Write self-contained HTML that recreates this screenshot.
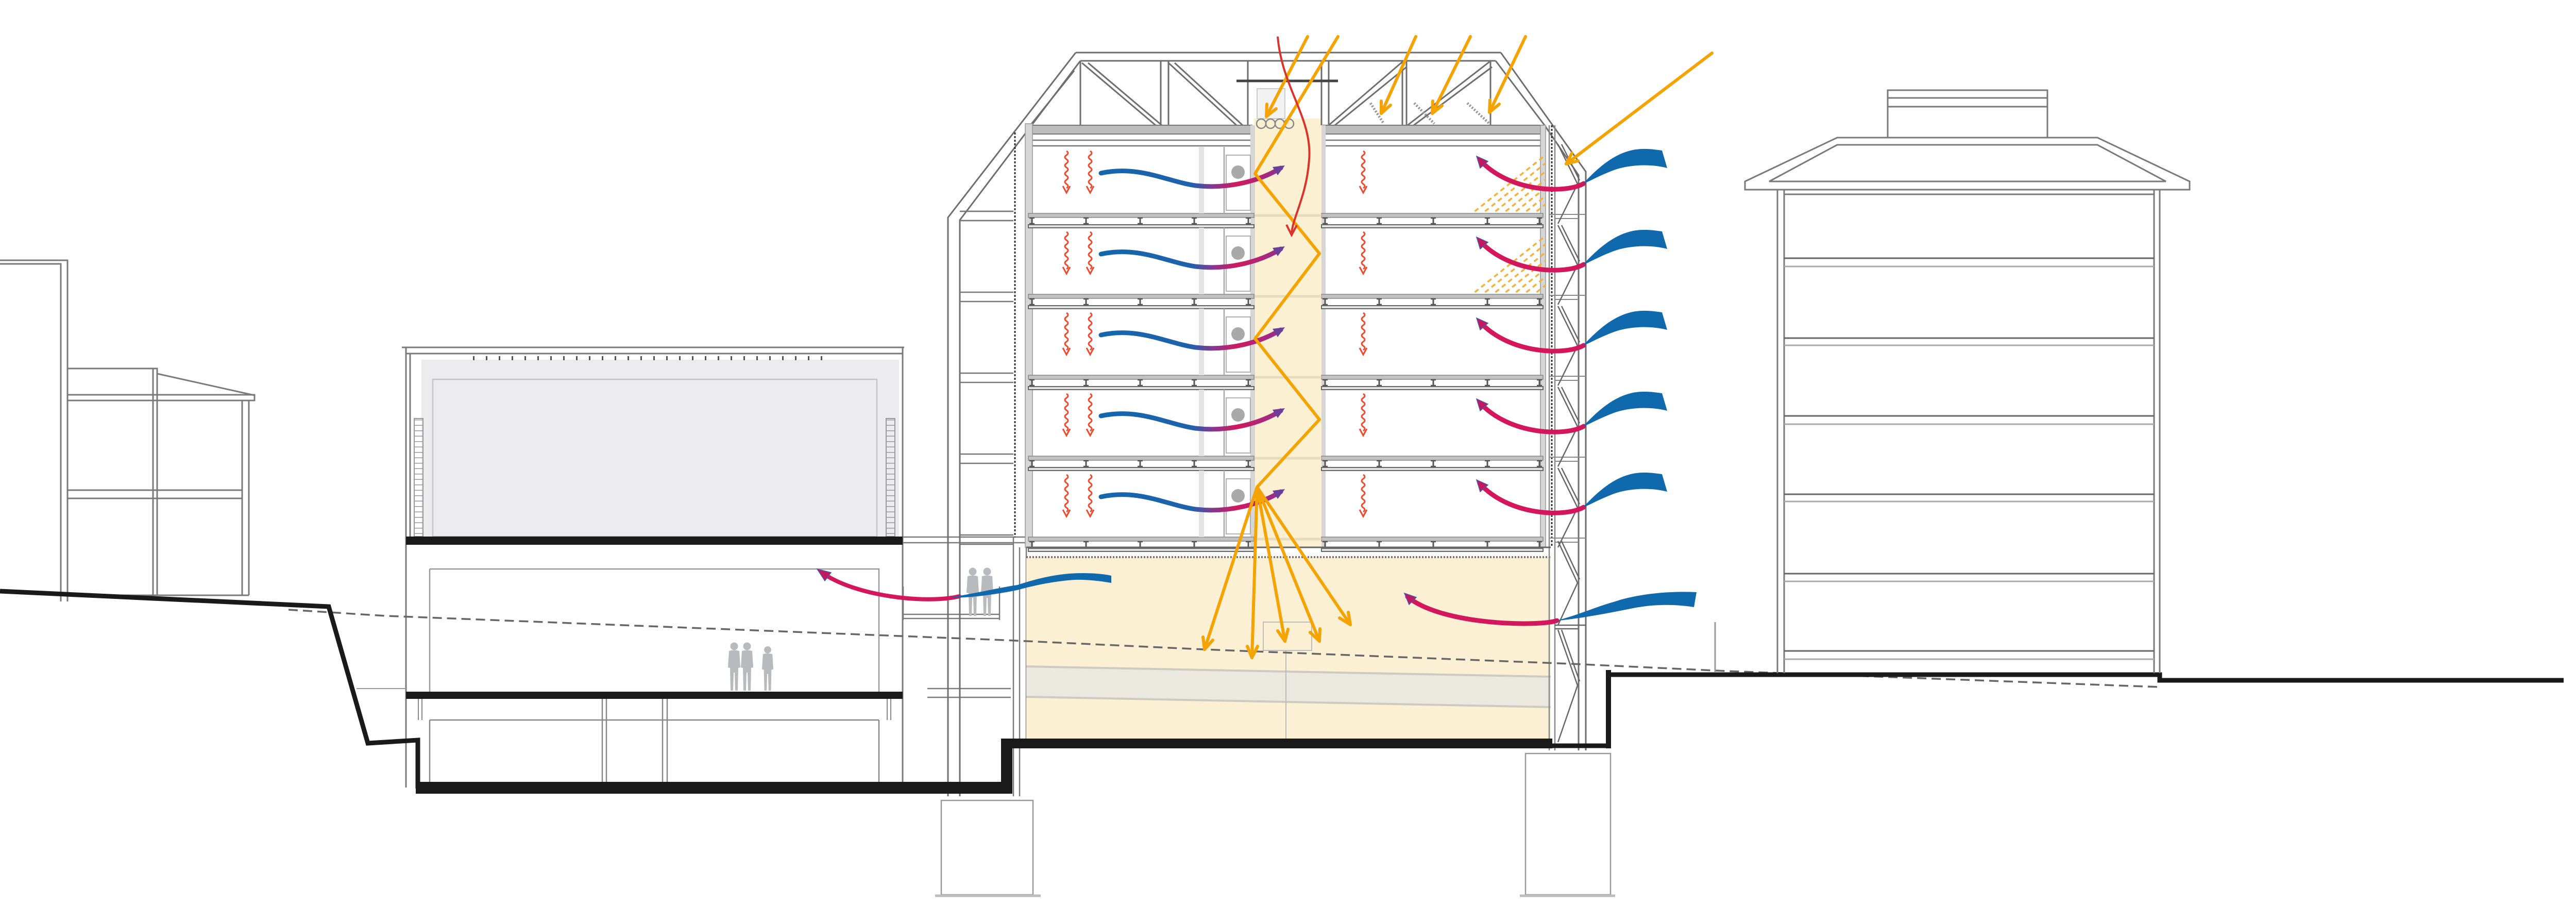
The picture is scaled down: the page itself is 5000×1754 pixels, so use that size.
<!DOCTYPE html>
<html><head><meta charset="utf-8">
<style>html,body{margin:0;padding:0;background:#fff;}svg{display:block}</style>
</head><body>
<svg xmlns="http://www.w3.org/2000/svg" xmlns:xlink="http://www.w3.org/1999/xlink" width="5000" height="1754" viewBox="0 0 5000 1754">
<defs>
<linearGradient id="bm" gradientUnits="userSpaceOnUse" x1="2137" y1="0" x2="2490" y2="0">
<stop offset="0" stop-color="#1466ad"/><stop offset="0.5" stop-color="#1f62ab"/><stop offset="0.62" stop-color="#8a3590"/><stop offset="0.75" stop-color="#d01a5e"/><stop offset="1" stop-color="#8e3192"/>
</linearGradient>
<clipPath id="hc"><polygon points="2846,413 3000,298 3000,413"/></clipPath>
<g id="slab">
 <rect x="1996" y="0" width="438" height="8" fill="#c2c2c2" stroke="#888" stroke-width="1.5"/>
 <rect x="2565" y="0" width="430" height="8" fill="#c2c2c2" stroke="#888" stroke-width="1.5"/>
 <path d="M2003,8v13M2108,8v13M2213,8v13M2318,8v13M2423,8v13M2572,8v13M2677,8v13M2782,8v13M2887,8v13M2988,8v13" stroke="#555" stroke-width="3"/>
 <path d="M1998,9h10M1998,20h10M2103,9h10M2103,20h10M2208,9h10M2208,20h10M2313,9h10M2313,20h10M2418,9h10M2418,20h10M2567,9h10M2567,20h10M2672,9h10M2672,20h10M2777,9h10M2777,20h10M2882,9h10M2882,20h10M2983,9h10M2983,20h10" stroke="#555" stroke-width="2.5"/>
 <rect x="1996" y="22" width="438" height="6" fill="#e2e2e2" stroke="#666" stroke-width="2"/>
 <rect x="2565" y="22" width="430" height="6" fill="#e2e2e2" stroke="#666" stroke-width="2"/>
 <path d="M1863,-4H1967M1863,14H1967" stroke="#777" stroke-width="2.5"/>
 <path d="M2436,4H2565" stroke="#e6dbbd" stroke-width="5"/>
 <path d="M3007,2H3078M3018,10H3064" stroke="#888" stroke-width="2"/>
</g>
<g id="wave">
 <path d="M0,0q6,4 0,8t0,8t0,8t0,8t0,8t0,8t0,8t0,8t0,8" fill="none" stroke="#ee4a30" stroke-width="3"/>
 <path d="M-7,68L0,81L7,68" fill="none" stroke="#ee4a30" stroke-width="3"/>
</g>
<g id="room">
 <rect x="2327" y="285" width="10" height="129" fill="#e3e3e3"/>
 <path d="M2376,285V414" stroke="#aaa" stroke-width="2.5"/>
 <rect x="2380" y="301" width="47" height="107" fill="#fff" stroke="#b0b0b0" stroke-width="2"/>
 <circle cx="2403" cy="334" r="13" fill="#a9a9a9"/>
 <use xlink:href="#wave" transform="translate(2070,293)"/>
 <use xlink:href="#wave" transform="translate(2116,293)"/>
 <use xlink:href="#wave" transform="translate(2646,293)"/>
 <path d="M2137,336C2210,320 2265,352 2320,360C2390,368 2450,348 2486,326" fill="none" stroke="url(#bm)" stroke-width="9" stroke-linecap="round"/>
 <path d="M2494,321L2480,340L2470,324Z" fill="#6a3f98"/>
 <path d="M3024,280L3062,357L3024,434M3031,280L3066,350" fill="none" stroke="#666" stroke-width="2.5"/>
 <path d="M3074,356C3040,376 2930,374 2872,310" fill="none" stroke="#d4175c" stroke-width="9" stroke-linecap="round"/>
 <path d="M2866,303L2888,313L2873,326Z" fill="#c2185f" stroke="#4a5aa8" stroke-width="1.5"/>
 <path d="M3072,357C3095,333 3125,302 3165,292C3190,286 3210,290 3226,292L3236,326C3205,318 3160,318 3125,333C3100,343 3085,352 3072,357Z" fill="#1169ad"/>
</g>
<g id="hatch" clip-path="url(#hc)">
 <path d="M2790,420L2985,265M2810,420L3005,265M2830,420L3025,265M2850,420L3045,265M2870,420L3065,265M2890,420L3085,265M2910,420L3105,265M2930,420L3125,265M2950,420L3145,265M2970,420L3165,265M2990,420L3185,265" stroke="#f4b23c" stroke-width="3.5" stroke-dasharray="9,7"/>
</g>
<g id="p">
 <circle cx="0" cy="-86" r="7.5" fill="#b8babd"/>
 <path d="M-10,-77Q0,-80 10,-77L12,-45L8,-44L7,0L2,0L1,-35L-1,-35L-2,0L-7,0L-8,-44L-12,-45Z" fill="#b8babd"/>
</g>
</defs>

<rect width="5000" height="1754" fill="#fff"/>

<!-- far left buildings -->
<g fill="none" stroke="#7a7a7a" stroke-width="3">
 <path d="M0,505H131V1167M0,512H118V1167"/>
 <path d="M131,715H305V777M297,715V1155M305,777V1155M305,725L494,767M131,766H494V777H131M470,777V1155M483,777V1155M131,951H470M131,967H470M131,1155H483"/>
</g>

<!-- gallery building -->
<rect x="818" y="698" width="927" height="343" fill="#ececee"/>
<g fill="none" stroke="#7a7a7a" stroke-width="3">
 <path d="M780,674H1755M788,686H1752M788,674V1528M796,686V1041M1752,674V1528"/>
 <rect x="840" y="736" width="862" height="305" stroke="#c4c4c6" stroke-width="2.5"/>
 <rect x="804" y="812" width="17" height="229" stroke="#999" stroke-width="2"/>
 <rect x="1720" y="812" width="17" height="229" stroke="#999" stroke-width="2"/>
 <path d="M834,1104H1706V1342M834,1104V1342" stroke="#999" stroke-width="2.5"/>
 <path d="M834,1397H1706M834,1397V1517M1706,1397V1517M1169,1356V1517M1177,1356V1517M1286,1356V1517M1295,1356V1517" stroke="#888" stroke-width="2.5"/>
 <path d="M812,1356V1397M819,1356V1397M1722,1356V1397M1729,1356V1397" stroke="#888" stroke-width="2"/>
 <path d="M692,1336H788" stroke="#999" stroke-width="2"/>
</g>
<path d="M918,695H1600" stroke="#555" stroke-width="8" stroke-dasharray="3,22"/>
<path d="M812,814V1040M1728,814V1040" stroke="#999" stroke-width="16" stroke-dasharray="1.5,9"/>
<rect x="788" y="1041" width="964" height="16" fill="#1a1a1a"/>
<rect x="788" y="1342" width="964" height="14" fill="#1a1a1a"/>
<use xlink:href="#p" transform="translate(1425,1340)"/>
<use xlink:href="#p" transform="translate(1450,1340)"/>
<use xlink:href="#p" transform="translate(1490,1340) scale(0.92)"/>
<path d="M1415,-60" />

<!-- bridge -->
<g fill="none" stroke="#7a7a7a" stroke-width="2.5">
 <path d="M1752,1042H1992M1752,1053H1990M1752,1192H1940M1752,1200H1940M1753,1138V1203M1940,1138V1203"/>
 <path d="M1800,1336H1962M1800,1353H1962"/>
 <path d="M1967,1042V1545M1979,1062V1545M1992,1062V1442"/>
</g>
<use xlink:href="#p" transform="translate(1888,1195)"/>
<use xlink:href="#p" transform="translate(1916,1195)"/>

<!-- core & atrium fill -->
<rect x="2434" y="230" width="131" height="832" fill="#fbf0d2"/>
<rect x="1992" y="1080" width="1018" height="353" fill="#fbf0d3"/>
<path d="M1992,1293C2300,1300 2600,1303 3010,1313L3010,1372C2600,1362 2300,1358 1992,1352Z" fill="#ebe8e0"/>
<path d="M1992,1293C2300,1300 2600,1303 3010,1313M1992,1352C2300,1358 2600,1362 3010,1372" fill="none" stroke="#cdcac2" stroke-width="4"/>
<path d="M2496,1262V1433" stroke="#bbb" stroke-width="2"/>
<rect x="2452" y="1207" width="94" height="55" fill="none" stroke="#bbb" stroke-width="2"/>
<path d="M1992,1081H3010" stroke="#777" stroke-width="4" stroke-dasharray="3,3"/>

<!-- main building structure -->
<g fill="none" stroke="#6e6e6e" stroke-width="3">
 <path d="M2088,102L1840,422V1545M2097,118L1863,427V1545"/>
 <path d="M2088,102H2913M2097,118H2903"/>
 <path d="M2913,102L3078,333V1456M2903,118L2998,243M2998,243L3064,340V1456"/>
 <path d="M2085,137L2000,243M2097,118V243M2253,118V243M2268,118V243M2422,118V243M2565,118V243M2579,118V243M2722,118V243M2730,118V243M2893,118V243"/>
 <path d="M2100,122L2243,243M2112,122L2255,243M2268,122L2400,243M2280,122L2412,243M2579,243L2722,120M2591,243L2730,130M2732,243L2891,120M2744,243L2896,130"/>
</g>
<path d="M2660,200L2686,240M2745,200L2784,240M2848,200L2891,240" stroke="#999" stroke-width="5" stroke-dasharray="3,3"/>
<path d="M2400,157H2597" stroke="#444" stroke-width="5"/>
<rect x="2440" y="172" width="54" height="58" fill="#f2f2f2" stroke="#ccc" stroke-width="2"/>
<g fill="none" stroke="#888" stroke-width="2.5"><circle cx="2448" cy="240" r="9"/><circle cx="2466" cy="240" r="9"/><circle cx="2484" cy="240" r="9"/><circle cx="2502" cy="240" r="9"/></g>

<!-- roof slab -->
<rect x="2000" y="243" width="430" height="17" fill="#bdbdbd" stroke="#777" stroke-width="2"/>
<rect x="2568" y="243" width="428" height="17" fill="#bdbdbd" stroke="#777" stroke-width="2"/>
<path d="M2000,272H2430M2568,272H2996M2000,283H2430M2568,283H2996" stroke="#777" stroke-width="2.5"/>
<path d="M1863,410H1967M1863,428H1967" stroke="#777" stroke-width="2.5"/>

<!-- columns -->
<rect x="1990" y="240" width="14" height="822" fill="#d6d6d6" stroke="#999" stroke-width="1.5"/>
<rect x="2427" y="243" width="9" height="819" fill="#d6d6d6"/>
<rect x="2565" y="243" width="8" height="819" fill="#d6d6d6"/>
<rect x="2990" y="243" width="10" height="819" fill="#d6d6d6" stroke="#999" stroke-width="1.5"/>
<path d="M1970,257V1042" stroke="#333" stroke-width="3" stroke-dasharray="4,3"/>
<path d="M3012,243V1062" stroke="#333" stroke-width="3" stroke-dasharray="4,3"/>
<path d="M3007,243V1456M3018,243V1456" stroke="#888" stroke-width="2.5"/>

<!-- slabs -->
<use xlink:href="#slab" transform="translate(0,414)"/>
<use xlink:href="#slab" transform="translate(0,571)"/>
<use xlink:href="#slab" transform="translate(0,728)"/>
<use xlink:href="#slab" transform="translate(0,885)"/>
<use xlink:href="#slab" transform="translate(0,1042)"/>
<path d="M1992,1062H3010" stroke="#666" stroke-width="3"/>

<!-- hatch -->
<use xlink:href="#hatch"/>
<use xlink:href="#hatch" transform="translate(0,157)"/>

<!-- rooms -->
<use xlink:href="#room"/>
<use xlink:href="#room" transform="translate(0,157)"/>
<use xlink:href="#room" transform="translate(0,314)"/>
<use xlink:href="#room" transform="translate(0,471)"/>
<use xlink:href="#room" transform="translate(0,628)"/>

<!-- facade lower -->
<path d="M3024,1050L3062,1131L3024,1213M3031,1050L3066,1124M3024,1222L3062,1330L3024,1440M3031,1222L3066,1322M3018,1213H3078M3018,1220H3064" fill="none" stroke="#666" stroke-width="2.5"/>

<!-- piles -->
<g fill="none" stroke="#999" stroke-width="2.5">
 <rect x="1827" y="1553" width="178" height="183"/>
 <rect x="2961" y="1462" width="165" height="274"/>
</g>
<path d="M1815,1738H2020M2950,1738H3135" stroke="#bbb" stroke-width="5"/>

<!-- dashed ground reference -->
<polyline points="560,1183 750,1195 1950,1242 2336,1260 3050,1288 3350,1302 4192,1333" fill="none" stroke="#666" stroke-width="3.5" stroke-dasharray="18,10"/>

<!-- ground / thick lines -->
<path d="M0,1147L638,1177L714,1442L811,1436V1530" fill="none" stroke="#1a1a1a" stroke-width="9" stroke-linejoin="miter"/>
<rect x="807" y="1517" width="1158" height="23" fill="#1a1a1a"/>
<rect x="1943" y="1433" width="22" height="107" fill="#1a1a1a"/>
<rect x="1943" y="1433" width="1070" height="19" fill="#1a1a1a"/>
<path d="M3010,1447H3127" stroke="#1a1a1a" stroke-width="9"/>
<rect x="3117" y="1300" width="10" height="152" fill="#1a1a1a"/>
<path d="M3117,1309H4192V1320H4976" fill="none" stroke="#1a1a1a" stroke-width="9"/>
<path d="M3329,1207V1305" stroke="#999" stroke-width="3"/>

<!-- right building -->
<g fill="none" stroke="#7a7a7a" stroke-width="3">
 <rect x="3664" y="175" width="310" height="92"/>
 <path d="M3664,190H3974M3664,207H3974"/>
 <path d="M3387,352L3566,267H4071L4250,352V368H3387Z"/>
 <path d="M3434,352L3566,281H4071L4204,352Z"/>
 <path d="M3450,368V1306M3463,368V1306M4181,368V1306M4192,368V1306"/>
 <path d="M3463,377H4181"/>
 <path d="M3463,501H4181M3463,656H4181M3463,807H4181M3463,959H4181M3463,1113H4181M3463,1263H4181" stroke="#666"/>
 <path d="M3463,517H4181M3463,670H4181M3463,823H4181M3463,973H4181M3463,1128H4181M3463,1279H4181" stroke="#aaa"/>
</g>

<!-- atrium magenta arc & fan -->
<path d="M3022,1204C2990,1216 2800,1214 2732,1158" fill="none" stroke="#d4175c" stroke-width="9" stroke-linecap="round"/>
<path d="M2726,1151L2749,1159L2735,1173Z" fill="#c2185f" stroke="#4a5aa8" stroke-width="1.5"/>
<path d="M3017,1205C3060,1195 3095,1178 3135,1167C3170,1155 3230,1146 3293,1149L3288,1178C3250,1172 3211,1172 3170,1180C3130,1188 3070,1200 3017,1205Z" fill="#1169ad"/>

<!-- bridge arrow -->
<path d="M1862,1157C1800,1172 1660,1158 1594,1110" fill="none" stroke="#d4175c" stroke-width="8" stroke-linecap="round"/>
<path d="M1586,1104L1613,1111L1601,1127Z" fill="#c2185f" stroke="#4a5aa8" stroke-width="1.5"/>
<path d="M1840,1160C1900,1150 1940,1140 1975,1135C2020,1120 2060,1112 2100,1112C2125,1112 2145,1114 2157,1117L2157,1131C2140,1128 2110,1124 2086,1125C2040,1128 2000,1138 1974,1145C1940,1152 1890,1160 1840,1160Z" fill="#1169ad"/>

<!-- orange light rays -->
<g fill="none" stroke="#f5a300" stroke-width="6" stroke-linecap="round" stroke-linejoin="round">
 <path d="M2538,71L2458,226"/><path d="M2477,211L2458,226L2459,202"/>
 <path d="M2597,71L2436,337L2561,492L2436,657L2561,814L2440,945"/>
 <path d="M2440,945L2338,1260M2440,945L2430,1276M2440,945L2494,1244M2440,945L2561,1244M2440,945L2621,1212"/>
 <path d="M2354,1242L2338,1260L2335,1236M2441,1254L2430,1276L2421,1254M2500,1221L2494,1244L2480,1224M2562,1220L2561,1244L2543,1227M2617,1188L2621,1212L2600,1199"/>
 <path d="M2748,71L2681,220"/><path d="M2699,204L2681,220L2681,196"/>
 <path d="M2854,71L2780,220"/><path d="M2799,205L2780,220L2781,196"/>
 <path d="M2961,71L2891,218"/><path d="M2910,202L2891,218L2892,194"/>
 <path d="M3323,103L3040,318"/><path d="M3063,312L3040,318L3051,297"/>
</g>
<!-- red curve -->
<path d="M2480,71C2488,170 2548,230 2541,310C2536,380 2510,420 2507,452" fill="none" stroke="#d9342b" stroke-width="4"/>
<path d="M2497,436L2507,456L2517,437" fill="none" stroke="#d9342b" stroke-width="4"/>
</svg>
</body></html>
